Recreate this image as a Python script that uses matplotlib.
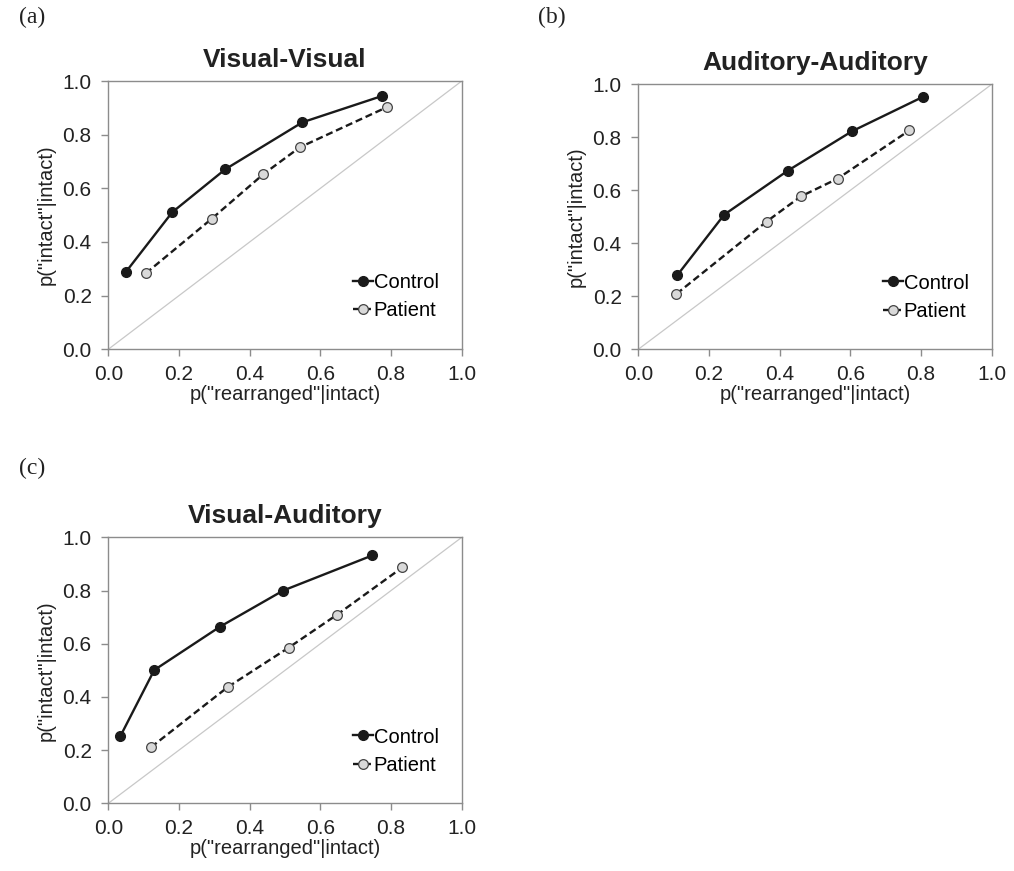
import matplotlib.pyplot as plt

plt.rcParams['font.family'] = ['Liberation Sans', 'DejaVu Sans']

# -----------------------------
# Data
# -----------------------------
titles = ["Visual-Visual", "Auditory-Auditory", "Visual-Auditory"]
panel_tags = ["(a)", "(b)", "(c)"]

vv_control_x = [0.049, 0.181, 0.331, 0.549, 0.774]
vv_control_y = [0.287, 0.511, 0.671, 0.846, 0.944]
vv_patient_x = [0.106, 0.293, 0.439, 0.542, 0.789]
vv_patient_y = [0.283, 0.487, 0.653, 0.753, 0.903]

aa_control_x = [0.110, 0.243, 0.423, 0.605, 0.806]
aa_control_y = [0.279, 0.508, 0.674, 0.823, 0.953]
aa_patient_x = [0.108, 0.363, 0.460, 0.564, 0.767]
aa_patient_y = [0.209, 0.482, 0.577, 0.644, 0.826]

va_control_x = [0.034, 0.130, 0.316, 0.495, 0.747]
va_control_y = [0.252, 0.501, 0.664, 0.800, 0.932]
va_patient_x = [0.121, 0.338, 0.510, 0.647, 0.832]
va_patient_y = [0.211, 0.437, 0.585, 0.709, 0.887]

ticks = [0.0, 0.2, 0.4, 0.6, 0.8, 1.0]
tick_labels = ["0.0", "0.2", "0.4", "0.6", "0.8", "1.0"]

panels = [
    (vv_control_x, vv_control_y, vv_patient_x, vv_patient_y),
    (aa_control_x, aa_control_y, aa_patient_x, aa_patient_y),
    (va_control_x, va_control_y, va_patient_x, va_patient_y),
]

# axes boxes in figure fractions (left, bottom, width, height)
boxes = [
    [0.1068, 0.5990, 0.3486, 0.3080],
    [0.6295, 0.5990, 0.3485, 0.3042],
    [0.1068, 0.0777, 0.3486, 0.3054],
]
tag_pos = [(0.019, 0.980), (0.531, 0.980), (0.019, 0.462)]

fig = plt.figure(figsize=(10.14, 8.71), dpi=100)

for i in range(3):
    cx, cy, px, py = panels[i]
    ax = fig.add_axes(boxes[i])

    # chance diagonal
    ax.plot([0, 1], [0, 1], color='#c8c8c8', linewidth=0.9, zorder=1)

    ax.plot(cx, cy, color='#1a1a1a', linewidth=1.7, marker='o', markersize=7,
            markerfacecolor='#1a1a1a', markeredgecolor='#1a1a1a', label='Control', zorder=3)
    ax.plot(px, py, color='#1a1a1a', linewidth=1.7, linestyle=(0, (3, 1.6)), marker='o',
            markersize=7, markerfacecolor='#d9d9d9', markeredgecolor='#444444',
            markeredgewidth=0.9, label='Patient', zorder=3)

    ax.set_xlim(0, 1)
    ax.set_ylim(0, 1)
    ax.set_xticks(ticks)
    ax.set_xticklabels(tick_labels)
    ax.set_yticks(ticks)
    ax.set_yticklabels(tick_labels)
    ax.tick_params(direction='out', length=5, width=1, color='#8c8c8c',
                   labelsize=15, labelcolor='#222222')
    ax.tick_params(axis='x', pad=6)
    ax.tick_params(axis='y', pad=7)
    for sp in ax.spines.values():
        sp.set_color('#8c8c8c')
        sp.set_linewidth(1.0)

    ax.set_xlabel('p("rearranged"|intact)', fontsize=14.5, color='#222222', labelpad=1)
    ax.set_ylabel('p("intact"|intact)', fontsize=14.5, color='#222222', labelpad=5)
    ax.set_title(titles[i], fontsize=19, fontweight='bold', color='#222222', pad=10)

    ax.legend(loc='lower right', bbox_to_anchor=(0.975, 0.055), frameon=False,
              fontsize=14.5, handlelength=1.0, handletextpad=0.05,
              labelspacing=0.45, borderaxespad=0.3)

    # panel tag
    fig.text(tag_pos[i][0], tag_pos[i][1], panel_tags[i], fontsize=17,
             family='Liberation Serif', color='#222222', va='center', ha='left')

plt.savefig('out.png', dpi=100)
plt.close()
